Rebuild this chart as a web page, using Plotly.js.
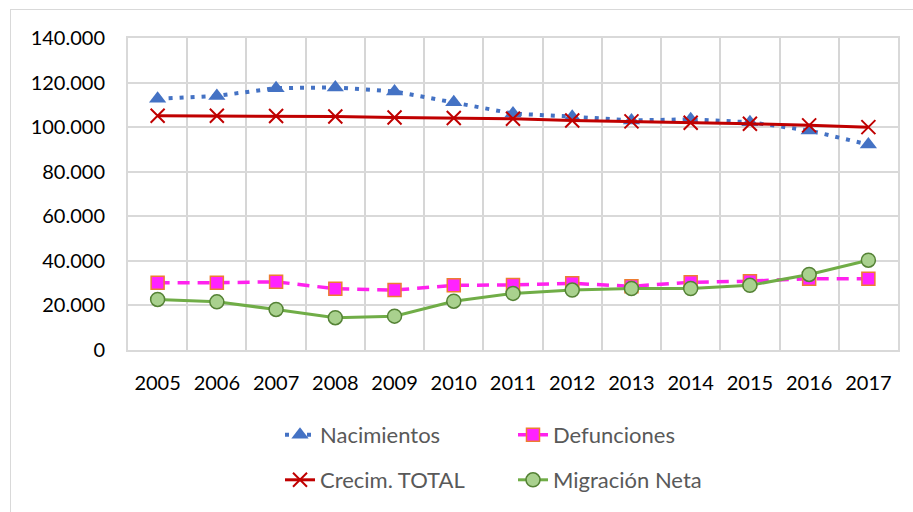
<!DOCTYPE html>
<html><head><meta charset="utf-8">
<script src="https://cdn.plot.ly/plotly-3.0.1.min.js"></script>
<style>
html,body{margin:0;padding:0;background:#fff;}
#wrap{position:relative;width:913px;height:512px;overflow:hidden;}
#frame{position:absolute;left:10px;top:9px;width:920px;height:520px;border:1px solid #d9d9d9;box-sizing:border-box;pointer-events:none;z-index:2;}
#chart{position:absolute;left:0;top:0;width:913px;height:512px;}
</style></head>
<body><div id="wrap"><div id="chart"></div><div id="frame"></div></div>
<script>
const years = [2005,2006,2007,2008,2009,2010,2011,2012,2013,2014,2015,2016,2017];
const nacimientos = [112700,114000,117500,117800,116000,111200,106100,104700,103000,103500,102200,98500,92200];
const defunciones = [30200,30200,30600,27500,26900,29000,29200,29900,28600,30400,30900,32000,32000];
const crecimTotal = [105100,105100,105000,104800,104300,104100,103800,103000,102600,102000,101500,100800,100000];
const migracionNeta = [22700,21600,18200,14500,15200,21900,25400,26900,27600,27600,29000,33900,40300];
const yTicks = [0,20000,40000,60000,80000,100000,120000,140000];

const traces = [
  {name:'Nacimientos', x:years, y:nacimientos, type:'scatter', mode:'lines+markers', legend:'legend',
   line:{color:'#4472C4', width:4, dash:'4px,7px'},
   marker:{symbol:'triangle-up', size:15, color:'#4472C4'}},
  {name:'Defunciones', x:years, y:defunciones, type:'scatter', mode:'lines+markers', legend:'legend',
   line:{color:'#FF22EE', width:3.5, dash:'12px,8px'},
   marker:{symbol:'square', size:13, color:'#FF22FF', line:{color:'#ED7D31', width:1.5}}},
  {name:'Crecim. TOTAL', x:years, y:crecimTotal, type:'scatter', mode:'lines+markers', legend:'legend2',
   line:{color:'#C00000', width:3},
   marker:{symbol:'x-thin', size:14, color:'#C00000', line:{color:'#C00000', width:2}}},
  {name:'Migración Neta', x:years, y:migracionNeta, type:'scatter', mode:'lines+markers', legend:'legend2',
   line:{color:'#70AD47', width:3},
   marker:{symbol:'circle', size:14, color:'#A9D18E', line:{color:'#548235', width:1.5}}}
];

const legendCommon = {orientation:'h', xanchor:'left', yanchor:'middle', entrywidth:188, entrywidthmode:'pixels',
  font:{family:'Lato, "Liberation Sans", sans-serif', size:22, color:'#595959'}, bgcolor:'rgba(0,0,0,0)', itemwidth:30};

const layout = {
  width:913, height:512,
  margin:{l:128, r:15, t:38, b:161},
  paper_bgcolor:'#fff', plot_bgcolor:'#fff',
  separators:',.',
  showlegend:true,
  font:{family:'Lato, "Liberation Sans", sans-serif', size:20, color:'#000'},
  xaxis:{type:'linear', range:[years[0]-0.5, years[years.length-1]+0.5], tickvals:years, tickformat:'d',
    showgrid:false, zeroline:false,
    minor:{tickmode:'linear', tick0:years[0]-0.5, dtick:1, showgrid:true, gridcolor:'#d6d6d6', gridwidth:2, ticks:''},
    showline:true, linecolor:'#d9d9d9', linewidth:2, mirror:true, ticks:'', ticklabelstandoff:14,
    tickfont:{size:20, color:'#000'}, fixedrange:true},
  yaxis:{range:[0,140000], tickvals:yTicks, tickformat:',d', showgrid:true, gridcolor:'#d9d9d9', gridwidth:2,
    zeroline:false, showline:true, linecolor:'#d9d9d9', linewidth:2, mirror:true, ticks:'', ticklabelstandoff:17,
    tickfont:{size:20, color:'#000'}, fixedrange:true},
  legend:Object.assign({}, legendCommon, {x:(280-128)/770, y:-(435-351)/313}),
  legend2:Object.assign({}, legendCommon, {x:(280-128)/770, y:-(480-351)/313})
};

Plotly.newPlot('chart', traces, layout, {displayModeBar:false, staticPlot:true});
</script></body></html>
